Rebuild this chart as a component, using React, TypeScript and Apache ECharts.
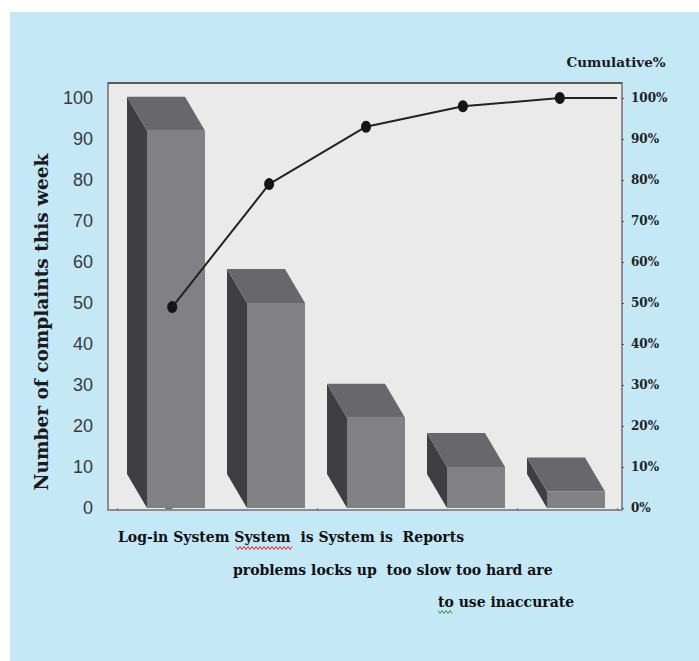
import React, { useEffect, useRef } from "react";
import * as echarts from "echarts";

// Complaint categories (Pareto order) and their weekly counts
const categories = [
  "Log-in problems",
  "System locks up",
  "System is too slow",
  "System is too hard to use",
  "Reports are inaccurate",
];
const complaints = [92, 50, 22, 10, 4];
// Cumulative share of complaints, in percent
const cumulativePct = [49, 79, 93, 98, 100];

// Axis scales
const countMin = 0;
const countMax = 100;
const countStep = 10;
const pctMin = 0;
const pctMax = 100;
const pctStep = 10;

// Caption lines printed under the chart
const captionLines = [
  "Log-in System System  is System is  Reports",
  "problems locks up  too slow too hard are",
  "to use inaccurate",
];
const leftAxisTitle = "Number of complaints this week";
const rightAxisTitle = "Cumulative%";

const W = 699;
const H = 661;

// Line axis range so the cumulative curve runs slightly left of the bar centres
const lineAxisMin = -0.57;
const lineAxisMax = 4.59;

function zigzag(x0: number, x1: number, y: number, step = 2, amp = 1.5) {
  const pts: number[][] = [];
  let up = true;
  for (let x = x0; x <= x1; x += step) {
    pts.push([x, y + (up ? -amp : amp)]);
    up = !up;
  }
  return pts;
}

export default function App() {
  const ref = useRef<HTMLDivElement>(null);

  useEffect(() => {
    if (!ref.current) return;
    const chart = echarts.init(ref.current, undefined, { renderer: "svg" });

    const sideColor = "#3f3f41";
    const topColor = "#68686c";
    const frontColor = "#818185";

    const lineData: any[] = cumulativePct.map((v, i) => [i, v]);
    lineData.push({ value: [lineAxisMax, cumulativePct[cumulativePct.length - 1]], symbol: "none" });

    const captionFont = {
      fontFamily: "DejaVu Serif",
      fontWeight: "bold",
      fontSize: 14,
      fill: "#111111",
      textAlign: "left",
      textVerticalAlign: "middle",
    };

    chart.setOption({
      animation: false,
      backgroundColor: "#ffffff",
      grid: { left: 117, right: W - 617, top: 98, bottom: H - 508, containLabel: false },
      graphic: [
        { type: "rect", z: -10, shape: { x: 10, y: 12, width: W - 10, height: H - 12 }, style: { fill: "#c5e8f7" } },
        { type: "rect", z: -9, shape: { x: 108, y: 83, width: 514, height: 427 }, style: { fill: "#eaeaea", stroke: "#8c8c8c", lineWidth: 2 } },
        { type: "line", z: -8, shape: { x1: 108, y1: 83, x2: 622, y2: 83 }, style: { stroke: "#5a5a5a", lineWidth: 2 } },
        {
          type: "text",
          x: 41,
          y: 322,
          rotation: Math.PI / 2,
          style: {
            text: leftAxisTitle,
            fontFamily: "DejaVu Serif",
            fontWeight: "bold",
            fontSize: 18.5,
            fill: "#1a1a1a",
            textAlign: "center",
            textVerticalAlign: "middle",
          },
        },
        {
          type: "text",
          x: 616,
          y: 62,
          style: {
            text: rightAxisTitle,
            fontFamily: "DejaVu Serif",
            fontWeight: "bold",
            fontSize: 13.5,
            fill: "#1a1a1a",
            textAlign: "center",
            textVerticalAlign: "middle",
          },
        },
        ...captionLines.map((t, i) => ({
          type: "text",
          x: [118, 233, 438][i],
          y: [537, 570, 602][i],
          style: { ...captionFont, text: t },
        })),
        { type: "polyline", shape: { points: zigzag(236, 292, 548) }, style: { stroke: "#e02020", lineWidth: 1, fill: "none" } },
        { type: "polyline", shape: { points: zigzag(438, 452, 612) }, style: { stroke: "#2a9a2a", lineWidth: 1, fill: "none" } },
      ],
      xAxis: [
        {
          type: "category",
          data: categories,
          boundaryGap: true,
          axisLine: { show: false },
          axisTick: { show: true, length: 3, lineStyle: { color: "#777777" } },
          axisLabel: { show: false },
        },
        { type: "value", min: lineAxisMin, max: lineAxisMax, show: false },
      ],
      yAxis: [
        {
          type: "value",
          position: "left",
          min: countMin,
          max: countMax,
          interval: countStep,
          offset: 14,
          axisLine: { show: false },
          axisTick: { show: true, length: 7, lineStyle: { color: "#6a6a6a" } },
          splitLine: { show: false },
          axisLabel: {
            margin: 10,
            fontFamily: "Liberation Sans",
            fontSize: 18,
            color: "#3a3a3a",
          },
        },
        {
          type: "value",
          position: "right",
          min: pctMin,
          max: pctMax,
          interval: pctStep,
          offset: 5,
          axisLine: { show: false },
          axisTick: { show: true, length: 2, lineStyle: { color: "#555555" } },
          splitLine: { show: false },
          axisLabel: {
            margin: 9,
            formatter: "{value}%",
            fontFamily: "DejaVu Serif",
            fontWeight: "bold",
            fontSize: 12,
            color: "#222222",
          },
        },
      ],
      series: [
        {
          type: "custom",
          xAxisIndex: 0,
          yAxisIndex: 0,
          data: complaints.map((v, i) => [i, v]),
          encode: { x: 0, y: 1 },
          renderItem: (params: any, api: any) => {
            const idx = api.value(0);
            const val = api.value(1);
            const [cx, yTop] = api.coord([idx, val]);
            const yBase = api.coord([idx, 0])[1];
            const band = api.size([1, 0])[0];
            const fw = band * 0.58;
            const dx = band * 0.2;
            const dy = 34;
            const fl = cx - band * 0.2;
            const fr = fl + fw;
            return {
              type: "group",
              children: [
                {
                  type: "polygon",
                  shape: { points: [[fl - dx, yTop - dy], [fl, yTop], [fl, yBase], [fl - dx, yBase - dy]] },
                  style: { fill: sideColor },
                },
                {
                  type: "polygon",
                  shape: { points: [[fl - dx, yTop - dy], [fr - dx, yTop - dy], [fr, yTop], [fl, yTop]] },
                  style: { fill: topColor },
                },
                {
                  type: "rect",
                  shape: { x: fl, y: yTop, width: fw, height: yBase - yTop },
                  style: { fill: frontColor },
                },
              ],
            };
          },
        },
        {
          type: "line",
          xAxisIndex: 1,
          yAxisIndex: 1,
          data: lineData,
          symbol: "circle",
          symbolSize: [10, 12],
          itemStyle: { color: "#151515" },
          lineStyle: { color: "#222222", width: 2 },
          z: 5,
        },
      ],
    });

    return () => chart.dispose();
  }, []);

  return <div ref={ref} style={{ position: "fixed", left: 0, top: 0, width: W, height: H }} />;
}
